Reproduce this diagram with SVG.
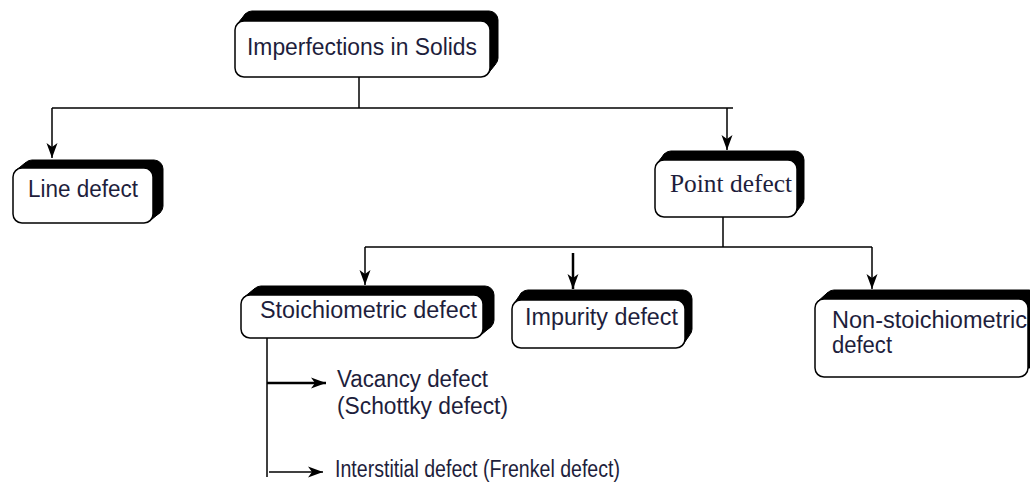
<svg xmlns="http://www.w3.org/2000/svg" width="1030" height="482" viewBox="0 0 1030 482">
<style>
.bg{fill:#fff}
.sh{fill:#000;stroke:#000;stroke-width:1}
.fr{fill:#fff;stroke:#000;stroke-width:1.5}
.t{font-family:"Liberation Sans",Arial,sans-serif;font-size:23px;fill:#1e1e3c}
.ts{font-family:"Liberation Serif","Times New Roman",serif;font-size:25px;fill:#1e1e3c}
.c{fill:none;stroke:#000;stroke-width:1.5}
.thick{stroke-width:2.5}
</style>
<defs>
<marker id="ah" viewBox="-17 -7 18 14" refX="0" refY="0" markerWidth="18" markerHeight="14" markerUnits="userSpaceOnUse" orient="auto">
<path d="M0,0 L-15,-5.5 L-11,0 L-15,5.5 Z" fill="#000"/>
</marker>
</defs>
<rect class="bg" x="0" y="0" width="1030" height="482"/>

<g id="connectors">
<path class="c" d="M359,77 V108"/>
<path class="c" d="M52,108 H733"/>
<path class="c" d="M52,108 V158" marker-end="url(#ah)"/>
<path class="c" d="M727,108 V150" marker-end="url(#ah)"/>
<path class="c" d="M723,217 V247"/>
<path class="c" d="M365,247 H872"/>
<path class="c" d="M365,247 V285" marker-end="url(#ah)"/>
<path class="c thick" d="M573,253 V289" marker-end="url(#ah)"/>
<path class="c" d="M872,247 V289" marker-end="url(#ah)"/>
<path class="c" d="M267,338 V477"/>
<path class="c thick" d="M267,383 H326" marker-end="url(#ah)"/>
<path class="c" d="M269,472 H323" marker-end="url(#ah)"/>
</g>

<g id="imperfections">
<rect class="sh" x="243" y="11" width="255" height="56" rx="9"/>
<polygon class="sh" points="237.6,23.6 245.6,13.6 495.4,64.4 487.4,74.4"/>
<rect class="fr" x="235" y="21" width="255" height="56" rx="9"/>
<text class="t" x="362" y="55" text-anchor="middle" textLength="230" lengthAdjust="spacingAndGlyphs">Imperfections in Solids</text>
</g>

<g id="line-defect">
<rect class="sh" x="23" y="160" width="140" height="55" rx="9"/>
<polygon class="sh" points="15.6,170.6 25.6,162.6 160.4,212.4 150.4,220.4"/>
<rect class="fr" x="13" y="168" width="140" height="55" rx="9"/>
<text class="t" x="28" y="197" textLength="110" lengthAdjust="spacingAndGlyphs">Line defect</text>
</g>

<g id="point-defect">
<rect class="sh" x="662" y="151" width="142" height="57" rx="9"/>
<polygon class="sh" points="657.6,162.6 664.6,153.6 801.4,205.4 794.4,214.4"/>
<rect class="fr" x="655" y="160" width="142" height="57" rx="9"/>
<text class="ts" x="670" y="192" textLength="122" lengthAdjust="spacingAndGlyphs">Point defect</text>
</g>

<g id="stoichiometric">
<rect class="sh" x="252" y="286" width="242" height="43" rx="9"/>
<polygon class="sh" points="243.6,297.6 254.6,288.6 491.4,326.4 480.4,335.4"/>
<rect class="fr" x="241" y="295" width="242" height="43" rx="9"/>
<text class="t" x="260" y="318" textLength="217" lengthAdjust="spacingAndGlyphs">Stoichiometric defect</text>
</g>

<g id="impurity">
<rect class="sh" x="519" y="290" width="173" height="48" rx="9"/>
<polygon class="sh" points="514.6,302.6 521.6,292.6 689.4,335.4 682.4,345.4"/>
<rect class="fr" x="512" y="300" width="173" height="48" rx="9"/>
<text class="t" x="525" y="325" textLength="153" lengthAdjust="spacingAndGlyphs">Impurity defect</text>
</g>

<g id="non-stoichiometric">
<rect class="sh" x="825" y="290" width="213" height="78" rx="9"/>
<polygon class="sh" points="817.6,301.6 827.6,292.6 1035.4,356.4 1025.4,365.4"/>
<rect class="fr" x="815" y="299" width="213" height="78" rx="9"/>
<text class="t" x="832" y="328" textLength="195" lengthAdjust="spacingAndGlyphs">Non-stoichiometric</text>
<text class="t" x="832" y="353" textLength="60" lengthAdjust="spacingAndGlyphs">defect</text>
</g>

<g id="vacancy">
<text class="t" x="337" y="387" textLength="151" lengthAdjust="spacingAndGlyphs">Vacancy defect</text>
<text class="t" x="337" y="414" textLength="171" lengthAdjust="spacingAndGlyphs">(Schottky defect)</text>
</g>

<g id="interstitial">
<text class="t" x="335" y="477" textLength="285" lengthAdjust="spacingAndGlyphs">Interstitial defect (Frenkel defect)</text>
</g>
</svg>
